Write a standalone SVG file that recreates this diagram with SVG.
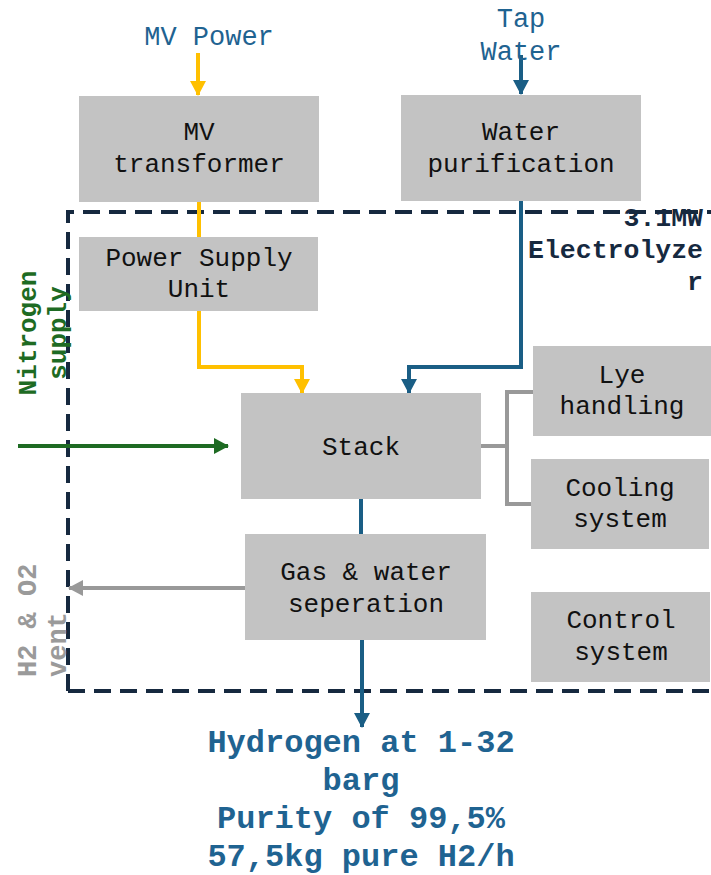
<svg xmlns="http://www.w3.org/2000/svg" width="711" height="875" viewBox="0 0 711 875">
<style>
.box{fill:#c3c3c3}
.t{font-family:"Liberation Mono",monospace;font-size:26px;fill:#111;text-anchor:middle}
.lbl{font-family:"Liberation Mono",monospace;font-size:27px;fill:#1f6391;text-anchor:middle}
.b{font-family:"Liberation Mono",monospace;font-weight:bold}
.c{fill:none;stroke-width:4}
</style>
<defs>
<marker id="ay" markerUnits="userSpaceOnUse" markerWidth="16" markerHeight="16" refX="14" refY="8" orient="auto"><path d="M0,0 L15,8 L0,16 Z" fill="#ffc000"/></marker>
<marker id="ab" markerUnits="userSpaceOnUse" markerWidth="16" markerHeight="16" refX="14" refY="8" orient="auto"><path d="M0,0 L15,8 L0,16 Z" fill="#1a5e85"/></marker>
<marker id="ag" markerUnits="userSpaceOnUse" markerWidth="16" markerHeight="16" refX="14" refY="8" orient="auto"><path d="M0,0 L15,8 L0,16 Z" fill="#1e6b23"/></marker>
<marker id="agr" markerUnits="userSpaceOnUse" markerWidth="16" markerHeight="16" refX="14" refY="8" orient="auto"><path d="M0,0 L15,8 L0,16 Z" fill="#999"/></marker>
</defs>

<g id="boundary">
<path d="M68,691 V212 H711 M68,691 H711" fill="none" stroke="#16293f" stroke-width="4" stroke-dasharray="17 9"/>
<text class="b" font-size="26.5" fill="#16293f" text-anchor="end"><tspan x="703" y="226">3.1MW</tspan><tspan x="703" y="258">Electrolyze</tspan><tspan x="703" y="290">r</tspan></text>
</g>

<g id="connectors">
<path class="c" d="M198,53 V95" stroke="#ffc000" marker-end="url(#ay)"/>
<path class="c" d="M521,55 V94" stroke="#1a5e85" marker-end="url(#ab)"/>
<path class="c" d="M199,202 V237" stroke="#ffc000"/>
<path class="c" d="M199,311 V367 H302 V393" stroke="#ffc000" marker-end="url(#ay)"/>
<path class="c" d="M521,201 V367 H409 V393" stroke="#1a5e85" marker-end="url(#ab)"/>
<path class="c" d="M18,446 H228" stroke="#1e6b23" marker-end="url(#ag)"/>
<path class="c" d="M481,446 H507 M533,392 H507 V504 H531" stroke="#999"/>
<path class="c" d="M361,499 V534" stroke="#1a5e85"/>
<path class="c" d="M245,588 H69" stroke="#999" marker-end="url(#agr)"/>
<path class="c" d="M362,640 V727" stroke="#1a5e85" marker-end="url(#ab)"/>
</g>

<g id="mv-power"><text class="lbl" x="209" y="45">MV Power</text></g>
<g id="tap-water"><text class="lbl"><tspan x="521" y="27">Tap</tspan><tspan x="521" y="60">Water</tspan></text></g>

<g id="mv-transformer">
<rect class="box" x="79" y="96" width="240" height="106"/>
<text class="t"><tspan x="199" y="140">MV</tspan><tspan x="199" y="172">transformer</tspan></text>
</g>
<g id="water-purification">
<rect class="box" x="401" y="95" width="240" height="106"/>
<text class="t"><tspan x="521" y="140">Water</tspan><tspan x="521" y="172">purification</tspan></text>
</g>
<g id="psu">
<rect class="box" x="79" y="237" width="239" height="74"/>
<text class="t"><tspan x="199" y="266">Power Supply</tspan><tspan x="199" y="297">Unit</tspan></text>
</g>
<g id="stack">
<rect class="box" x="241" y="393" width="240" height="106"/>
<text class="t" x="361" y="455">Stack</text>
</g>
<g id="lye-handling">
<rect class="box" x="533" y="346" width="178" height="90"/>
<text class="t"><tspan x="622" y="383">Lye</tspan><tspan x="622" y="414">handling</tspan></text>
</g>
<g id="cooling-system">
<rect class="box" x="531" y="459" width="178" height="90"/>
<text class="t"><tspan x="620" y="496">Cooling</tspan><tspan x="620" y="527">system</tspan></text>
</g>
<g id="gas-water">
<rect class="box" x="245" y="534" width="241" height="106"/>
<text class="t"><tspan x="366" y="580">Gas &amp; water</tspan><tspan x="366" y="612">seperation</tspan></text>
</g>
<g id="control-system">
<rect class="box" x="531" y="592" width="179" height="90"/>
<text class="t"><tspan x="621" y="628">Control</tspan><tspan x="621" y="660">system</tspan></text>
</g>

<g id="nitrogen-supply">
<text class="b" font-size="26" fill="#1e6b23" text-anchor="middle" transform="translate(0,333) rotate(-90)"><tspan x="0" y="36">Nitrogen</tspan><tspan x="0" y="66">supply</tspan></text>
</g>
<g id="vent">
<text class="b" font-size="27" fill="#9a9a9a" text-anchor="start" transform="translate(0,677) rotate(-90)"><tspan x="0" y="36">H2 &amp; O2</tspan><tspan x="0" y="66">vent</tspan></text>
</g>

<g id="hydrogen-output">
<text class="b" font-size="32" fill="#1f6391" text-anchor="middle"><tspan x="361" y="752">Hydrogen at 1-32</tspan><tspan x="361" y="790">barg</tspan><tspan x="361" y="828">Purity of 99,5%</tspan><tspan x="361" y="866">57,5kg pure H2/h</tspan></text>
</g>
</svg>
